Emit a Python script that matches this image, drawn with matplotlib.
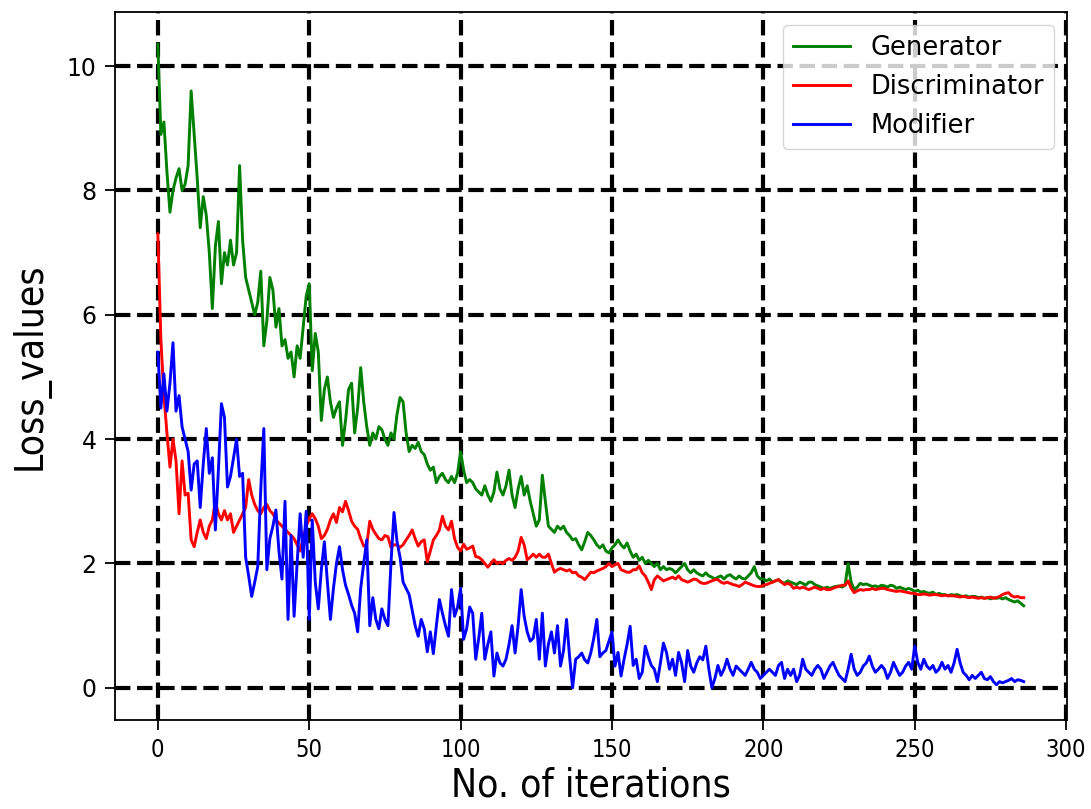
import numpy as np
from matplotlib import pyplot as plt

# loss values, one per iteration (0..286)
generator = [
    10.35, 8.9, 9.1, 8.3, 7.65, 8.0, 8.2, 8.35, 8.0, 8.1,
    8.4, 9.6, 8.9, 8.2, 7.4, 7.9, 7.6, 7.0, 6.1, 7.1,
    7.5, 6.5, 7.0, 6.8, 7.2, 6.8, 7.0, 8.4, 7.2, 6.6,
    6.4, 6.2, 6.0, 6.2, 6.7, 5.5, 5.9, 6.6, 6.4, 5.8,
    6.1, 5.5, 5.6, 5.3, 5.4, 5.0, 5.5, 5.3, 5.8, 6.3,
    6.5, 5.1, 5.7, 5.4, 4.3, 4.8, 5.0, 4.6, 4.35, 4.5,
    4.6, 3.9, 4.3, 4.8, 4.9, 4.1, 4.5, 5.15, 4.6, 4.2,
    3.9, 4.1, 4.0, 4.2, 4.15, 4.0, 3.9, 4.1, 4.0, 4.4,
    4.67, 4.6, 4.1, 3.8, 3.9, 3.85, 3.95, 3.8, 3.75, 3.6,
    3.5, 3.55, 3.3, 3.4, 3.45, 3.35, 3.3, 3.4, 3.3, 3.45,
    3.8, 3.5, 3.3, 3.35, 3.3, 3.2, 3.15, 3.1, 3.25, 3.1,
    3.0, 3.15, 3.47, 3.2, 3.1, 3.25, 3.5, 3.1, 2.9, 3.2,
    3.4, 3.1, 3.25, 3.0, 2.8, 2.6, 2.7, 3.42, 3.0, 2.6,
    2.55, 2.5, 2.6, 2.55, 2.6, 2.5, 2.45, 2.38, 2.4, 2.3,
    2.22, 2.35, 2.5, 2.45, 2.38, 2.3, 2.25, 2.3, 2.2, 2.17,
    2.25, 2.3, 2.38, 2.3, 2.25, 2.33, 2.2, 2.1, 2.15, 2.05,
    2.1, 2.0, 2.05, 2.0, 1.95, 2.0, 1.9, 1.95, 1.9, 1.92,
    1.9, 1.85, 1.9, 1.95, 2.0, 1.9, 1.85, 1.9, 1.85, 1.82,
    1.8, 1.85, 1.8, 1.78, 1.75, 1.78, 1.8, 1.75, 1.8, 1.82,
    1.78, 1.75, 1.8, 1.76, 1.75, 1.8, 1.85, 1.95, 1.8, 1.75,
    1.75, 1.72, 1.75, 1.7, 1.72, 1.74, 1.7, 1.68, 1.72, 1.7,
    1.68, 1.66, 1.7, 1.68, 1.65, 1.7, 1.7, 1.66, 1.64, 1.62,
    1.6, 1.62, 1.6, 1.62, 1.63, 1.64, 1.62, 1.65, 2.0, 1.7,
    1.58, 1.62, 1.68, 1.66, 1.67, 1.65, 1.63, 1.64, 1.62, 1.65,
    1.64, 1.62, 1.65, 1.64, 1.6, 1.62, 1.6, 1.58, 1.6, 1.58,
    1.55, 1.57, 1.54, 1.55, 1.53, 1.52, 1.54, 1.5, 1.52, 1.5,
    1.5, 1.48, 1.5, 1.49, 1.5, 1.48, 1.47, 1.48, 1.46, 1.47,
    1.47, 1.45, 1.46, 1.44, 1.45, 1.43, 1.45, 1.44, 1.45, 1.43,
    1.45, 1.42, 1.4, 1.38, 1.4, 1.36, 1.32,
]

discriminator = [
    7.3, 5.6, 4.7, 4.1, 3.55, 4.0, 3.65, 2.8, 3.65, 3.1,
    3.13, 2.38, 2.27, 2.5, 2.7, 2.5, 2.4, 2.6, 2.7, 3.0,
    2.8, 2.7, 2.85, 2.7, 2.8, 2.5, 2.6, 2.7, 2.8, 2.9,
    3.35, 3.1, 2.95, 2.85, 2.8, 2.9, 2.95, 2.85, 2.8, 2.7,
    2.65, 2.6, 2.55, 2.5, 2.45, 2.4, 2.3, 2.2, 2.4, 2.6,
    2.72, 2.8, 2.72, 2.6, 2.4, 2.45, 2.55, 2.7, 2.8, 2.66,
    2.9, 2.83, 3.0, 2.85, 2.68, 2.6, 2.55, 2.4, 2.28, 2.3,
    2.68, 2.55, 2.47, 2.4, 2.38, 2.45, 2.43, 2.26, 2.3, 2.3,
    2.26, 2.3, 2.38, 2.45, 2.54, 2.4, 2.28, 2.35, 2.38, 2.03,
    2.2, 2.38, 2.45, 2.54, 2.76, 2.6, 2.54, 2.68, 2.4, 2.26,
    2.2, 2.31, 2.23, 2.25, 2.28, 2.11, 2.1, 2.06, 2.0, 1.94,
    2.0, 2.06, 2.0, 2.02, 2.0, 2.05, 2.08, 2.05, 2.1, 2.2,
    2.42, 2.3, 2.06, 2.1, 2.15, 2.1, 2.15, 2.1, 2.1, 2.15,
    2.0, 1.86, 1.9, 1.92, 1.9, 1.88, 1.9, 1.85, 1.86, 1.8,
    1.78, 1.74, 1.8, 1.86, 1.85, 1.88, 1.9, 1.92, 1.95, 2.0,
    1.95, 1.98, 2.0, 1.9, 1.88, 1.86, 1.86, 1.9, 1.9, 1.96,
    1.85, 1.8, 1.7, 1.58, 1.74, 1.8, 1.76, 1.72, 1.74, 1.76,
    1.78, 1.75, 1.8, 1.74, 1.72, 1.7, 1.72, 1.75, 1.74, 1.7,
    1.68, 1.68, 1.7, 1.72, 1.74, 1.74, 1.7, 1.68, 1.7, 1.68,
    1.66, 1.65, 1.63, 1.66, 1.7, 1.68, 1.66, 1.64, 1.63, 1.63,
    1.65, 1.66, 1.68, 1.7, 1.72, 1.74, 1.7, 1.66, 1.68, 1.66,
    1.6, 1.62, 1.6, 1.62, 1.6, 1.58, 1.6, 1.62, 1.6, 1.58,
    1.6, 1.58, 1.58, 1.6, 1.62, 1.63, 1.65, 1.65, 1.72, 1.6,
    1.53, 1.56, 1.58, 1.57, 1.58, 1.58, 1.6, 1.58, 1.59, 1.6,
    1.6, 1.58, 1.57, 1.56, 1.55, 1.56, 1.55, 1.54, 1.53, 1.52,
    1.52, 1.5, 1.5, 1.51, 1.5, 1.49, 1.5, 1.5, 1.49, 1.48,
    1.49, 1.48, 1.48, 1.48, 1.47, 1.46, 1.47, 1.46, 1.45, 1.46,
    1.45, 1.44, 1.45, 1.44, 1.45, 1.46, 1.44, 1.45, 1.47, 1.5,
    1.52, 1.53, 1.48, 1.46, 1.47, 1.45, 1.45,
]

modifier = [
    5.4, 4.5, 5.05, 4.45, 4.9, 5.55, 4.45, 4.7, 4.2, 4.0,
    3.8, 3.18, 3.6, 3.65, 2.9, 3.6, 4.17, 3.45, 3.7, 2.54,
    3.5, 4.57, 4.35, 3.23, 3.4, 3.7, 4.0, 3.4, 3.45, 2.1,
    1.8, 1.47, 1.7, 1.95, 3.2, 4.17, 1.9, 2.4, 2.6, 2.86,
    2.2, 1.75, 3.0, 1.1, 2.45, 1.15, 2.0, 2.8, 2.1, 2.84,
    1.1, 2.7, 1.7, 1.27, 1.9, 2.35, 1.7, 1.1, 1.6, 2.0,
    2.27, 1.9, 1.65, 1.5, 1.33, 1.2, 0.9, 1.6, 2.0, 2.38,
    1.0, 1.45, 1.1, 0.95, 1.27, 1.1, 1.0, 2.0, 2.82, 2.35,
    2.1, 1.7, 1.6, 1.5, 1.25, 1.0, 0.83, 1.1, 0.95, 0.58,
    0.9, 0.55, 1.0, 1.42, 1.2, 1.0, 0.83, 1.58, 1.15, 1.3,
    1.6, 0.78, 0.95, 1.3, 1.2, 0.46, 0.8, 1.2, 0.46, 0.7,
    0.9, 0.19, 0.56, 0.4, 0.35, 0.46, 0.7, 1.0, 0.56, 1.0,
    1.58, 1.15, 0.9, 0.75, 0.8, 1.1, 0.46, 1.2, 0.35, 0.7,
    0.9, 0.56, 1.0, 0.35, 0.6, 1.1, 0.5, 0.0, 0.46, 0.5,
    0.56, 0.45, 0.4, 0.56, 0.8, 1.1, 0.5, 0.56, 0.6, 0.75,
    0.9, 0.35, 0.57, 0.19, 0.46, 0.7, 0.99, 0.36, 0.46, 0.15,
    0.25, 0.67, 0.5, 0.36, 0.3, 0.1, 0.4, 0.72, 0.57, 0.3,
    0.46, 0.2, 0.57, 0.4, 0.1, 0.6, 0.35, 0.25, 0.4, 0.5,
    0.45, 0.67, 0.3, 0.0, 0.15, 0.36, 0.2, 0.3, 0.46, 0.3,
    0.2, 0.35, 0.3, 0.25, 0.2, 0.3, 0.41, 0.3, 0.25, 0.15,
    0.2, 0.25, 0.3, 0.25, 0.2, 0.36, 0.41, 0.15, 0.3, 0.2,
    0.3, 0.1, 0.2, 0.46, 0.3, 0.25, 0.2, 0.3, 0.36, 0.3,
    0.15, 0.25, 0.35, 0.41, 0.3, 0.2, 0.15, 0.1, 0.3, 0.54,
    0.3, 0.2, 0.25, 0.35, 0.4, 0.51, 0.35, 0.25, 0.3, 0.36,
    0.3, 0.15, 0.25, 0.41, 0.3, 0.2, 0.25, 0.35, 0.41, 0.3,
    0.67, 0.41, 0.3, 0.46, 0.35, 0.3, 0.36, 0.25, 0.3, 0.41,
    0.3, 0.36, 0.25, 0.4, 0.62, 0.4, 0.25, 0.2, 0.13, 0.2,
    0.15, 0.2, 0.25, 0.15, 0.13, 0.18, 0.1, 0.05, 0.1, 0.08,
    0.1, 0.12, 0.15, 0.1, 0.13, 0.12, 0.1,
]

iterations = np.arange(len(generator))

fig = plt.figure(figsize=(10.91, 8.09), dpi=100)
ax = fig.add_axes([0.105, 0.110, 0.873, 0.875])

ax.plot(iterations, generator, color='green', lw=2.1, label='Generator')
ax.plot(iterations, discriminator, color='red', lw=2.1, label='Discriminator')
ax.plot(iterations, modifier, color='blue', lw=2.1, label='Modifier')

ax.grid(True, color='black', linestyle='--', linewidth=3)
ax.set_xticks([0, 50, 100, 150, 200, 250, 300])
ax.set_yticks([0, 2, 4, 6, 8, 10])
ax.tick_params(axis='both', length=7, width=1.3, pad=6, labelsize=17)
for lab in ax.get_xticklabels():
    lab.set_fontstretch('condensed')

ax.set_xlabel('No. of iterations', fontsize=28, fontstretch='condensed', labelpad=3)
ax.set_ylabel('Loss_values', fontsize=28, fontstretch='condensed', labelpad=12)

ax.legend(loc='upper right', fontsize=18.5, handlelength=2.2)

for s in ax.spines.values():
    s.set_linewidth(1.3)

fig.savefig('out.png', dpi=100)
